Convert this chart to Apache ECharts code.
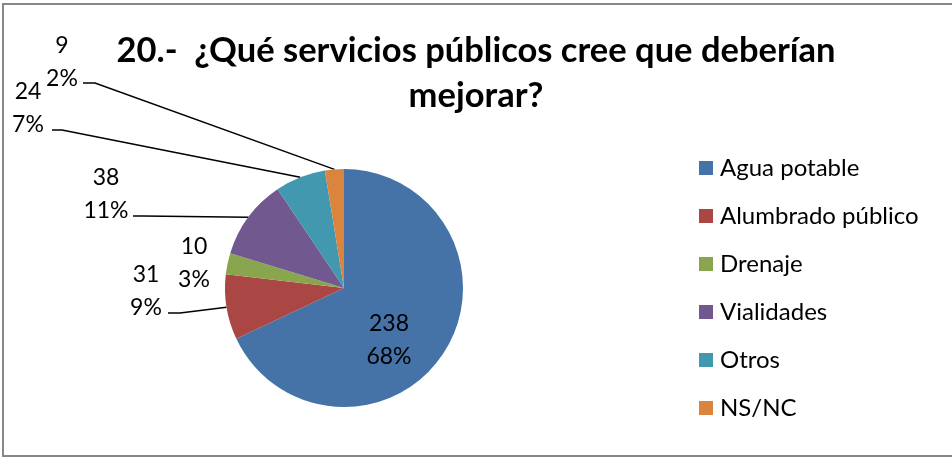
<!DOCTYPE html>
<html>
<head>
<meta charset="utf-8">
<script src="https://cdn.jsdelivr.net/npm/echarts@6/dist/echarts.min.js"></script>
<style>
  html, body { margin: 0; padding: 0; background: #fff; }
  #chart { width: 952px; height: 457px; }
</style>
</head>
<body>
<div id="chart"></div>
<script>
// Survey answers: which public services should improve
const categories = ['Agua potable', 'Alumbrado público', 'Drenaje', 'Vialidades', 'Otros', 'NS/NC'];
const counts = [238, 31, 10, 38, 24, 9];
const colors = ['#4572A7', '#AA4643', '#89A54E', '#71588F', '#4198AF', '#DB843D'];

// Where each value label sits (centre of the two-line block) and where its leader line bends
const labelCenters = [[389, 340], [146, 291], [194, 263], [106, 194], [28, 108], [62, 62]];
const leaderBends = [null, [[180, 313], [168, 313]], null, [[143, 216], [133, 216]], [[62, 130], [52, 130]], [[95, 83], [83, 83]]];

const FONT = 'Lato, "Noto Sans", sans-serif';

const chart = echarts.init(document.getElementById('chart'), null, { renderer: 'canvas' });

chart.setOption({
  backgroundColor: '#ffffff',
  animation: false,
  title: {
    text: '20.-  ¿Qué servicios públicos cree que deberían\nmejorar?',
    left: 'center',
    top: 28,
    padding: 0,
    textStyle: { fontFamily: FONT, fontSize: 34.5, fontWeight: 'bold', color: '#000', lineHeight: 45 }
  },
  legend: {
    orient: 'vertical',
    left: 699,
    top: 156,
    padding: 0,
    itemWidth: 14,
    itemHeight: 14,
    itemGap: 24,
    icon: 'rect',
    data: categories,
    textStyle: { fontFamily: FONT, fontSize: 24, color: '#000', lineHeight: 24, padding: [0, 0, 0, 2] }
  },
  graphic: [{
    type: 'rect',
    shape: { x: 3, y: 4, width: 970, height: 452 },
    style: { fill: null, stroke: '#878787', lineWidth: 2 },
    silent: true
  }],
  series: [{
    type: 'pie',
    center: [344, 288],
    radius: [0, 119],
    startAngle: 90,
    clockwise: true,
    percentPrecision: 0,
    avoidLabelOverlap: false,
    itemStyle: { borderWidth: 0 },
    label: {
      show: true,
      position: 'outside',
      formatter: '{c}\n{d}%',
      fontFamily: FONT,
      fontSize: 23,
      lineHeight: 33,
      color: '#000',
      align: 'center'
    },
    labelLine: { show: true, lineStyle: { color: '#000', width: 1.5 } },
    labelLayout: function (params) {
      const i = params.dataIndex;
      const c = labelCenters[i];
      const out = { x: c[0], y: c[1], align: 'center', verticalAlign: 'middle' };
      if (leaderBends[i] && params.labelLinePoints) {
        out.labelLinePoints = [params.labelLinePoints[0]].concat(leaderBends[i]);
      }
      return out;
    },
    data: categories.map(function (name, i) {
      const item = { name: name, value: counts[i], itemStyle: { color: colors[i] } };
      if (!leaderBends[i]) item.labelLine = { show: false };
      return item;
    })
  }]
});
</script>
</body>
</html>
